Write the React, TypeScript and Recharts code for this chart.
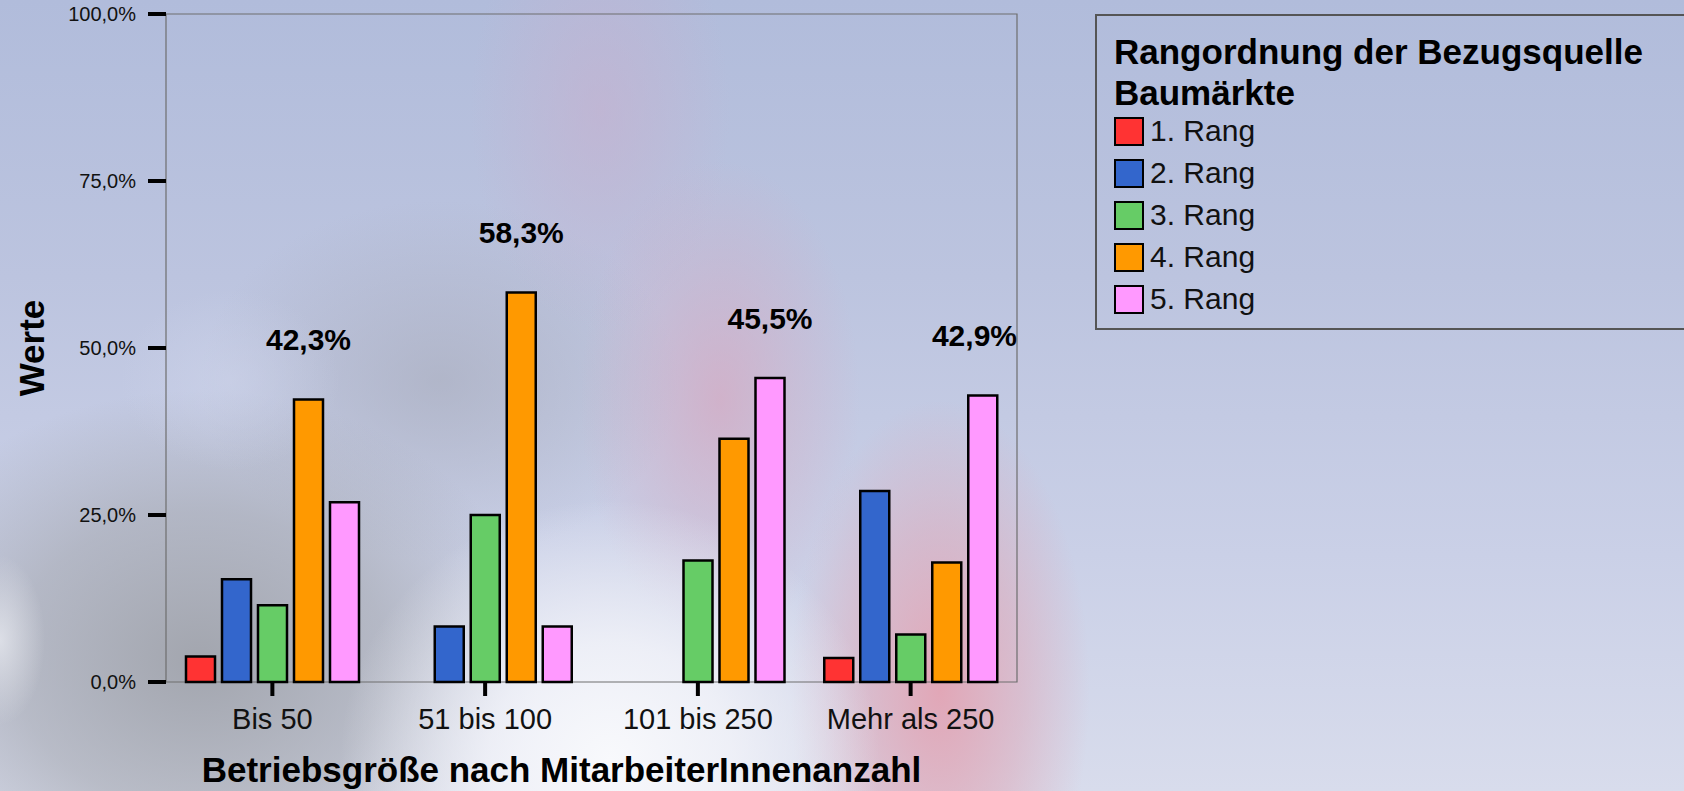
import React from 'react';
import { BarChart, Bar, XAxis, YAxis, LabelList, ReferenceArea } from 'recharts';

// Rangordnung der Bezugsquelle Baumärkte, Anteile je Betriebsgröße in %
const categories = ['Bis 50', '51 bis 100', '101 bis 250', 'Mehr als 250'];
const rang1 = [3.8, 0, 0, 3.6];
const rang2 = [15.4, 8.3, 0, 28.6];
const rang3 = [11.5, 25.0, 18.2, 7.1];
const rang4 = [42.3, 58.3, 36.4, 17.9];
const rang5 = [26.9, 8.3, 45.5, 42.9];

const seriesNames = ['1. Rang', '2. Rang', '3. Rang', '4. Rang', '5. Rang'];
const seriesKeys = ['r1', 'r2', 'r3', 'r4', 'r5'];
const seriesColors = ['#ff3333', '#3366cc', '#66cc66', '#ff9900', '#ff99ff'];
const seriesValues = [rang1, rang2, rang3, rang4, rang5];
const yTicks = [0, 25, 50, 75, 100];

const FONT = "'Liberation Sans', Arial, Helvetica, sans-serif";
const W = 1684;
const H = 791;
const MARGIN_RIGHT = 667;
const PLOT_RIGHT = W - MARGIN_RIGHT;

// only the highest bar of each group gets a value label
const data = categories.map((name, i) => {
  const max = Math.max(...seriesValues.map((s) => s[i]));
  const row: Record<string, any> = { name };
  seriesKeys.forEach((k, j) => {
    row[k] = seriesValues[j][i];
    row[k + 'Peak'] = seriesValues[j][i] === max ? seriesValues[j][i] : undefined;
  });
  return row;
});

const fmt = (v: number) => v.toFixed(1).replace('.', ',') + '%';

const PeakLabel = (props: any) => {
  const { viewBox, value } = props;
  if (value === undefined || value === null || !viewBox) return null;
  const cx = viewBox.x + viewBox.width / 2;
  // keep the label inside the plot frame
  const tooWide = cx + 42 > PLOT_RIGHT;
  return (
    <text
      x={tooWide ? PLOT_RIGHT : cx}
      y={viewBox.y - 60}
      textAnchor={tooWide ? 'end' : 'middle'}
      dominantBaseline="central"
      fontFamily={FONT}
      fontSize={30}
      fontWeight="bold"
      fill="#000"
    >
      {fmt(value)}
    </text>
  );
};

const background = [
  'radial-gradient(ellipse 45px 85px at 0px 640px, rgba(232,234,240,0.75) 0%, rgba(232,234,240,0) 100%)',
  'radial-gradient(ellipse 270px 260px at 610px 760px, rgba(248,249,252,1) 0%, rgba(244,245,250,0.8) 45%, rgba(244,245,250,0) 100%)',
  'radial-gradient(ellipse 150px 290px at 940px 690px, rgba(226,164,180,0.95) 0%, rgba(222,166,182,0.5) 55%, rgba(222,166,182,0) 100%)',
  'radial-gradient(ellipse 140px 240px at 720px 400px, rgba(214,168,192,0.7) 0%, rgba(214,168,192,0.3) 55%, rgba(214,168,192,0) 100%)',
  'radial-gradient(ellipse 130px 220px at 600px 110px, rgba(198,176,206,0.6) 0%, rgba(198,176,206,0) 100%)',
  'radial-gradient(ellipse 110px 90px at 230px 380px, rgba(206,212,234,0.55) 0%, rgba(206,212,234,0) 100%)',
  'radial-gradient(ellipse 340px 270px at 200px 660px, rgba(160,163,171,0.95) 0%, rgba(164,167,175,0.6) 55%, rgba(164,167,175,0) 100%)',
  'radial-gradient(ellipse 240px 180px at 440px 380px, rgba(168,172,188,0.65) 0%, rgba(168,172,188,0) 100%)',
  'linear-gradient(180deg, #b1bcdb 0%, #bcc4df 35%, #cad0e7 70%, #d8dcec 100%)',
].join(', ');

export default function App() {
  return (
    <div
      style={{
        position: 'absolute',
        left: 0,
        top: 0,
        width: W,
        height: H,
        overflow: 'hidden',
        background,
        fontFamily: FONT,
      }}
    >
      <BarChart
        width={W}
        height={H}
        data={data}
        margin={{ top: 14, right: MARGIN_RIGHT, bottom: 0, left: 0 }}
        barCategoryGap={20}
        barGap={7}
      >
        <ReferenceArea y1={0} y2={100} fill="none" stroke="#6e6e6e" strokeWidth={1.2} />
        <YAxis
          width={166}
          domain={[0, 100]}
          ticks={yTicks}
          tickFormatter={fmt}
          axisLine={false}
          tickLine={{ stroke: '#000', strokeWidth: 4 }}
          tickSize={18}
          tickMargin={12}
          tick={{ fill: '#111', fontSize: 20, fontFamily: FONT }}
          label={{
            content: (p: any) => {
              const cx = p.viewBox.x + 31;
              const cy = 348;
              return (
                <text
                  x={cx}
                  y={cy}
                  transform={`rotate(-90, ${cx}, ${cy})`}
                  textAnchor="middle"
                  dominantBaseline="central"
                  fontFamily={FONT}
                  fontSize={35}
                  fontWeight="bold"
                  fill="#000"
                >
                  Werte
                </text>
              );
            },
          }}
        />
        <XAxis
          dataKey="name"
          height={109}
          axisLine={false}
          tickLine={{ stroke: '#000', strokeWidth: 4 }}
          tickSize={14}
          tickMargin={12}
          tick={{ fill: '#111', fontSize: 29, fontFamily: FONT }}
          label={{
            content: (p: any) => (
              <text
                x={p.viewBox.x + p.viewBox.width / 2 - 30}
                y={p.viewBox.y + 87}
                textAnchor="middle"
                dominantBaseline="central"
                fontFamily={FONT}
                fontSize={35}
                fontWeight="bold"
                fill="#000"
              >
                Betriebsgröße nach MitarbeiterInnenanzahl
              </text>
            ),
          }}
        />
        {seriesKeys.map((k, j) => (
          <Bar
            key={k}
            dataKey={k}
            name={seriesNames[j]}
            fill={seriesColors[j]}
            stroke="#000"
            strokeWidth={2.5}
            isAnimationActive={false}
          >
            <LabelList dataKey={k + 'Peak'} content={PeakLabel} />
          </Bar>
        ))}
      </BarChart>

      <div
        style={{
          position: 'absolute',
          left: 1095,
          top: 14,
          width: 640,
          height: 316,
          boxSizing: 'border-box',
          border: '2px solid #555',
          paddingLeft: 17,
          paddingTop: 15,
          color: '#000',
        }}
      >
        <div style={{ fontSize: 35, fontWeight: 'bold', lineHeight: '41px' }}>
          Rangordnung der Bezugsquelle
          <br />
          Baumärkte
        </div>
        <div style={{ marginTop: -3 }}>
          {seriesNames.map((n, j) => (
            <div key={n} style={{ display: 'flex', alignItems: 'center', height: 42 }}>
              <div
                style={{
                  width: 30,
                  height: 29,
                  boxSizing: 'border-box',
                  border: '2px solid #000',
                  background: seriesColors[j],
                }}
              />
              <span style={{ fontSize: 30, lineHeight: '42px', marginLeft: 6, color: '#111' }}>{n}</span>
            </div>
          ))}
        </div>
      </div>
    </div>
  );
}
